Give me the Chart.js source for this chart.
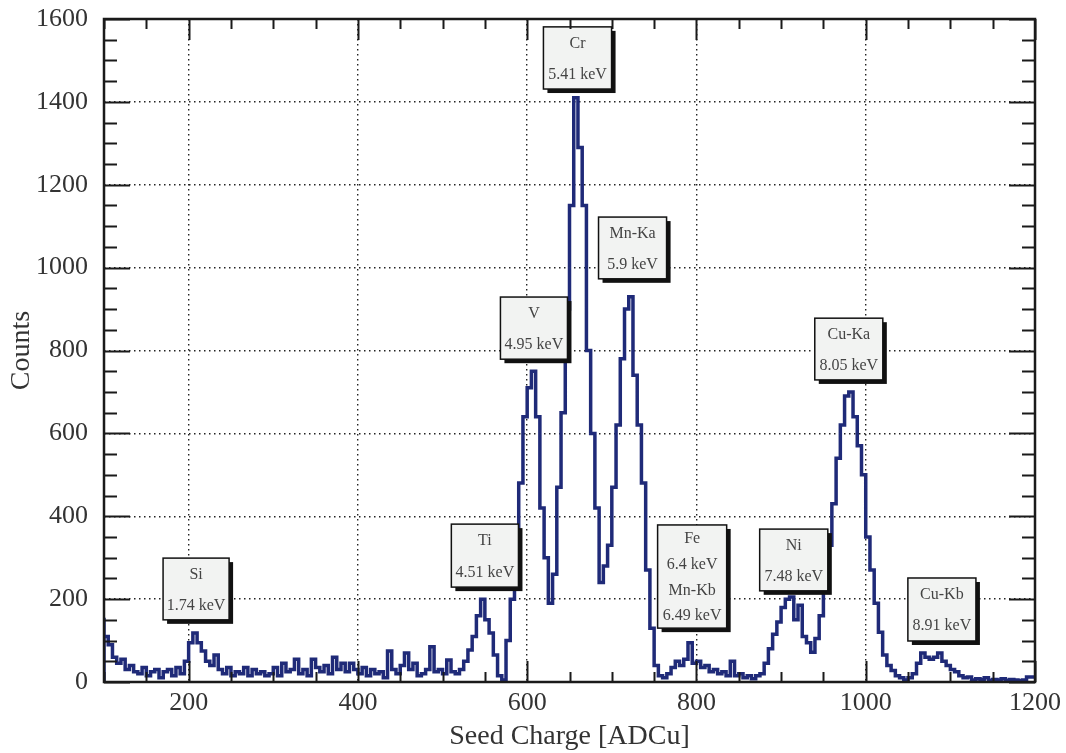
<!DOCTYPE html>
<html><head><meta charset="utf-8">
<script src="https://cdn.jsdelivr.net/npm/chart.js@4.4.1/dist/chart.umd.min.js"></script>
<style>html,body{margin:0;padding:0;background:#fff;}#wrap{width:1066px;height:753px;}</style>
</head><body><div id="wrap"><canvas id="c" width="1066" height="753"></canvas></div>
<script>
// Histogram: Seed Charge [ADCu], bins of 5 ADCu starting at 100
const binLow = 100;
const binWidth = 5;
const counts = [
  155,110,90,60,45,55,30,40,25,20,     // 100-150
  35,15,25,30,10,25,30,15,35,20,       // 150-200
  50,95,118,95,75,50,40,65,30,20,      // 200-250
  35,15,25,20,35,15,30,20,25,15,       // 250-300
  20,35,15,45,25,30,55,20,30,15,       // 300-350
  55,35,25,40,20,60,30,45,25,45,       // 350-400
  30,20,35,15,30,20,25,10,75,30,       // 400-450
  20,40,70,30,45,15,20,30,85,25,       // 450-500
  30,20,53,25,20,30,50,77,110,160,     // 500-550
  200,150,118,65,15,5,100,200,320,480, // 550-600
  640,710,750,640,420,300,190,260,470,650, // 600-650
  900,1150,1410,1290,1150,800,600,420,240,280, // 650-700
  330,470,620,780,900,930,740,620,480,270,    // 700-750
  130,40,15,10,20,35,50,40,55,95,      // 750-800
  45,50,35,40,25,30,20,25,15,50,       // 800-850
  15,20,10,15,8,15,20,45,80,115,       // 850-900
  145,180,200,205,150,185,110,95,72,105, // 900-950
  160,240,330,430,540,620,690,700,640,570, // 950-1000
  500,350,270,190,120,65,40,28,15,10,  // 1000-1050
  5,10,20,45,70,60,55,60,70,50,        // 1050-1100
  40,30,25,15,10,12,5,8,6,10,          // 1100-1150
  4,6,5,8,4,6,5,3,5,12                 // 1150-1200
];
const xTickLabels = [200, 400, 600, 800, 1000, 1200];
const yTickLabels = [0, 200, 400, 600, 800, 1000, 1200, 1400, 1600];

// Peak annotation boxes (TPaveText-like), in data coordinates
const peakLabels = [
  ['Si', '1.74 keV'],
  ['Ti', '4.51 keV'],
  ['V', '4.95 keV'],
  ['Cr', '5.41 keV'],
  ['Mn-Ka', '5.9 keV'],
  ['Fe', '6.4 keV', 'Mn-Kb', '6.49 keV'],
  ['Ni', '7.48 keV'],
  ['Cu-Ka', '8.05 keV'],
  ['Cu-Kb', '8.91 keV']
];
const peakBoxX1 = [169.8, 510.4, 568.4, 619.2, 684.3, 754.1, 874.7, 939.8, 1049.8];
const peakBoxX2 = [247.8, 589.7, 647.6, 699.7, 764.7, 835.7, 955.2, 1020.2, 1130.2];
const peakBoxY1 = [150, 229, 779, 1431, 973, 130, 220, 729, 99];
const peakBoxY2 = [299, 381, 929, 1581, 1122, 379, 369, 878, 251];

const histPoints = [{x: binLow, y: 0}];
counts.forEach((c, i) => histPoints.push({x: binLow + i * binWidth, y: c}));
histPoints.push({x: binLow + counts.length * binWidth, y: counts[counts.length - 1]});

const SERIF = "'Liberation Serif', 'DejaVu Serif', serif";

const deco = {
  id: 'deco',
  afterDatasetsDraw(chart) {
    const {ctx, scales: {x, y}} = chart;
    ctx.save();
    for (let i = 0; i < peakLabels.length; i++) {
      const l = x.getPixelForValue(peakBoxX1[i]);
      const r = x.getPixelForValue(peakBoxX2[i]);
      const t = y.getPixelForValue(peakBoxY2[i]);
      const b = y.getPixelForValue(peakBoxY1[i]);
      const w = r - l, h = b - t;
      ctx.fillStyle = '#111';
      ctx.fillRect(l + 4, t + 4, w, h);
      ctx.fillStyle = '#f2f3f2';
      ctx.fillRect(l, t, w, h);
      ctx.strokeStyle = '#111';
      ctx.lineWidth = 1.5;
      ctx.strokeRect(l, t, w, h);
      ctx.fillStyle = '#444';
      ctx.font = "16px " + SERIF;
      ctx.textAlign = 'center';
      ctx.textBaseline = 'middle';
      const n = peakLabels[i].length;
      peakLabels[i].forEach((s, k) => {
        ctx.fillText(s, (l + r) / 2, t + h * (2 * k + 1) / (2 * n) + 1);
      });
    }
    ctx.restore();
  },
  afterDraw(chart) {
    const {ctx, chartArea: a, scales: {x, y}} = chart;
    ctx.save();
    ctx.strokeStyle = '#1a1a1a';
    ctx.lineWidth = 2;
    ctx.beginPath();
    for (let v = x.min; v <= x.max; v += 50) {
      const px = Math.round(x.getPixelForValue(v)) + 0.5;
      const len = v % 200 === 0 ? 21 : 10;
      ctx.moveTo(px, a.bottom); ctx.lineTo(px, a.bottom - len);
      ctx.moveTo(px, a.top); ctx.lineTo(px, a.top + len);
    }
    for (let v = y.min; v <= y.max; v += 50) {
      const py = Math.round(y.getPixelForValue(v)) + 0.5;
      const len = v % 200 === 0 ? 26 : 13;
      ctx.moveTo(a.left, py); ctx.lineTo(a.left + len, py);
      ctx.moveTo(a.right, py); ctx.lineTo(a.right - len, py);
    }
    ctx.stroke();
    ctx.lineWidth = 2.5;
    ctx.strokeRect(a.left, a.top, a.right - a.left, a.bottom - a.top);
    ctx.restore();
  }
};

new Chart(document.getElementById('c'), {
  type: 'line',
  data: {
    datasets: [{
      data: histPoints,
      stepped: 'after',
      borderColor: '#1f2a78',
      borderWidth: 3.5,
      pointRadius: 0,
      fill: false,
      tension: 0
    }]
  },
  options: {
    responsive: false,
    animation: false,
    devicePixelRatio: 1,
    layout: {padding: {top: 19, right: 31, left: 0, bottom: 0}},
    plugins: {legend: {display: false}, tooltip: {enabled: false}},
    scales: {
      x: {
        type: 'linear', min: 100, max: 1200,
        afterBuildTicks: s => { s.ticks = xTickLabels.map(v => ({value: v})); },
        afterFit: s => { s.height = 71; s.paddingLeft = 0; s.paddingRight = 0; },
        grid: {display: true, drawTicks: false, color: '#222', lineWidth: 1.4},
        border: {display: false, dash: [1.5, 3.5]},
        ticks: {font: {family: SERIF, size: 26}, color: '#333', padding: 6, maxRotation: 0, autoSkip: false,
                callback: v => String(v)},
        title: {display: true, text: 'Seed Charge [ADCu]', font: {family: SERIF, size: 28}, color: '#333', padding: {top: 0, bottom: 0}}
      },
      y: {
        type: 'linear', min: 0, max: 1600,
        afterBuildTicks: s => { s.ticks = yTickLabels.map(v => ({value: v})); },
        afterFit: s => { s.width = 104; s.paddingTop = 0; s.paddingBottom = 0; },
        grid: {display: true, drawTicks: false, color: '#222', lineWidth: 1.4},
        border: {display: false, dash: [1.5, 3.5]},
        ticks: {font: {family: SERIF, size: 26}, color: '#333', padding: 16, autoSkip: false,
                callback: v => String(v)},
        title: {display: true, text: 'Counts', font: {family: SERIF, size: 28}, color: '#333', padding: {top: 5, bottom: 0}}
      }
    }
  },
  plugins: [deco]
});
</script>
</body></html>
